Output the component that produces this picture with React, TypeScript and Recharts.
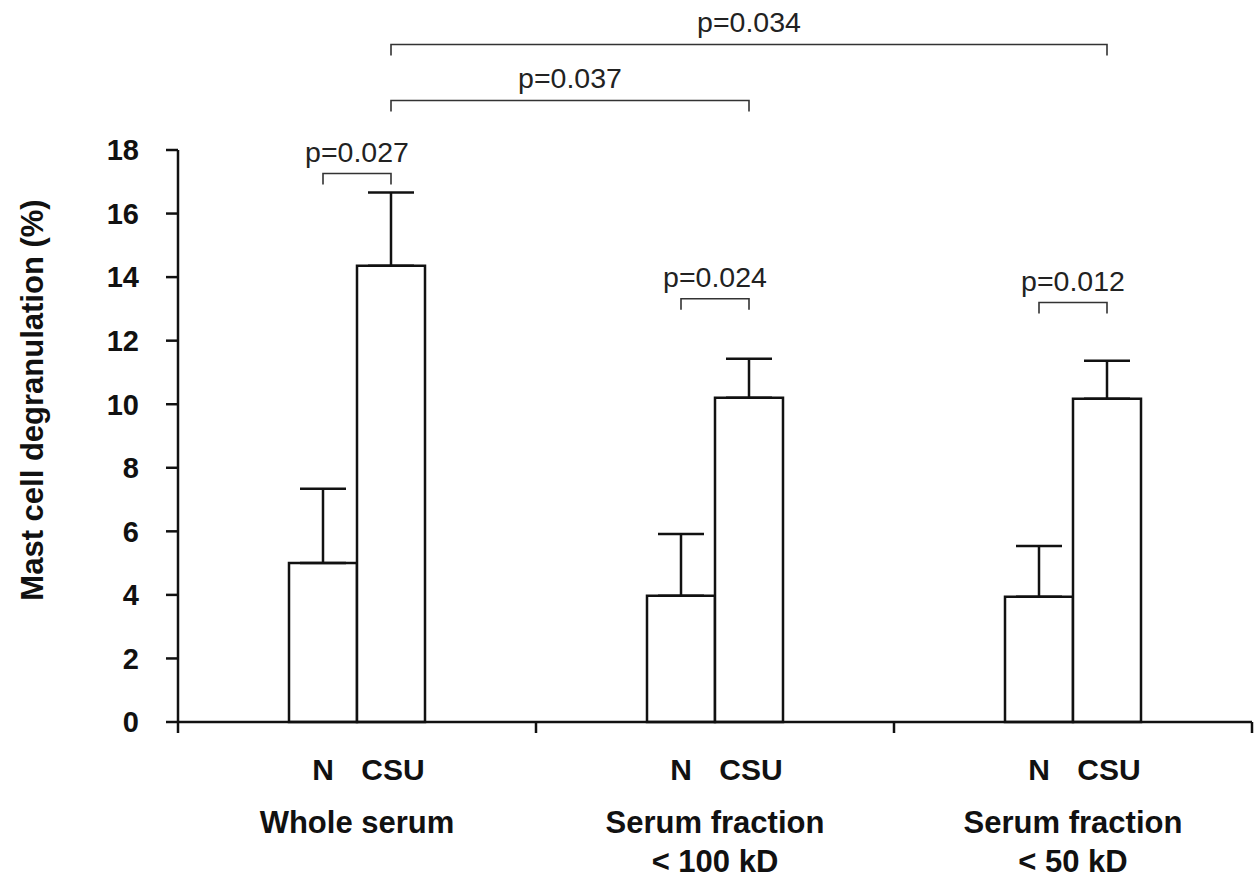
import React from 'react';
import { BarChart, Bar, XAxis, YAxis, ErrorBar, ReferenceLine, Label } from 'recharts';

// values
const groupLabels = [['Whole serum'], ['Serum fraction', '< 100 kD'], ['Serum fraction', '< 50 kD']];
const seriesNames = ['N', 'CSU'];
const nMean = [5.0, 3.97, 3.94];
const nErr = [2.34, 1.95, 1.6];
const csuMean = [14.36, 10.2, 10.17];
const csuErr = [2.3, 1.23, 1.2];
const yTicks = [0, 2, 4, 6, 8, 10, 12, 14, 16, 18];

// significance brackets: [group, series] -> [group, series]
const comparisons = [
  { from: [0, 0], to: [0, 1], y: 17.26, p: 'p=0.027' },
  { from: [1, 0], to: [1, 1], y: 13.32, p: 'p=0.024' },
  { from: [2, 0], to: [2, 1], y: 13.2, p: 'p=0.012' },
  { from: [0, 1], to: [1, 1], y: 19.56, p: 'p=0.037' },
  { from: [0, 1], to: [2, 1], y: 21.32, p: 'p=0.034' },
];

const data = groupLabels.map((g, i) => ({
  name: g.join(' '),
  pos: i + 0.5,
  N: nMean[i],
  nErr: [0, nErr[i]],
  CSU: csuMean[i],
  csuErr: [0, csuErr[i]],
}));

const W = 1260;
const H = 878;
const LEFT = 178;
const RIGHT = 8;
const TOP = 150;
const XAXIS_H = 156;
const BAR_SIZE = 68;
const BAND = (W - LEFT - RIGHT) / groupLabels.length;
const FONT = '"Liberation Sans", Arial, Helvetica, sans-serif';
const INK = '#111';

// centre of a bar in the numeric (group) axis units
const barX = ([g, s]: number[]) => g + 0.5 + (s === 0 ? -1 : 1) * (BAR_SIZE / 2) / BAND;

const GroupTick = (props: any) => {
  const { x, y, payload } = props;
  const v = payload.value;
  if (Number.isInteger(v)) {
    return <line x1={x} y1={y} x2={x} y2={y + 11} stroke={INK} strokeWidth={2.5} />;
  }
  const i = Math.floor(v);
  const style = { fontFamily: FONT, fontWeight: 700, fill: INK };
  return (
    <g>
      <text x={x - BAR_SIZE / 2} y={y + 58} textAnchor="middle" fontSize={30} style={style}>{seriesNames[0]}</text>
      <text x={x + BAR_SIZE / 2 + 2} y={y + 58} textAnchor="middle" fontSize={30} style={style}>{seriesNames[1]}</text>
      {groupLabels[i].map((line, k) => (
        <text key={k} x={x} y={y + 111 + k * 39} textAnchor="middle" fontSize={31} style={style}>{line}</text>
      ))}
    </g>
  );
};

const Bracket = (props: any) => {
  const { x1, y1, x2, y2 } = props;
  return (
    <path
      d={`M${x1},${y1 + 11} L${x1},${y1} L${x2},${y2} L${x2},${y2 + 11}`}
      fill="none"
      stroke="#333"
      strokeWidth={1.6}
    />
  );
};

const YTitle = (props: any) => {
  const { viewBox } = props;
  const cx = viewBox.x + 32;
  const cy = viewBox.y + viewBox.height / 2 - 36;
  return (
    <text
      x={cx}
      y={cy}
      transform={`rotate(-90 ${cx} ${cy})`}
      textAnchor="middle"
      dominantBaseline="central"
      fontSize={31}
      fontWeight={700}
      fontFamily={FONT}
      fill={INK}
    >
      Mast cell degranulation (%)
    </text>
  );
};

const App: React.FC = () => {
  return (
    <div style={{ position: 'absolute', left: 0, top: 0, background: '#fff' }}>
      <BarChart
        width={W}
        height={H}
        data={data}
        margin={{ top: TOP, right: RIGHT, left: 0, bottom: 0 }}
        barGap={0}
      >
        <XAxis xAxisId="cat" dataKey="name" orientation="top" height={0} hide />
        <XAxis
          xAxisId="num"
          dataKey="pos"
          type="number"
          domain={[0, 3]}
          ticks={[0, 0.5, 1, 1.5, 2, 2.5, 3]}
          allowDataOverflow
          height={XAXIS_H}
          tickLine={false}
          tickSize={0}
          tickMargin={0}
          axisLine={{ stroke: INK, strokeWidth: 2.5 }}
          tick={<GroupTick />}
          interval={0}
        />
        <YAxis
          domain={[0, 18]}
          ticks={yTicks}
          width={LEFT}
          tickSize={12}
          tickMargin={27}
          axisLine={{ stroke: INK, strokeWidth: 2.5 }}
          tickLine={{ stroke: INK, strokeWidth: 2.5 }}
          tick={{ fill: INK, fontSize: 29, fontWeight: 700, fontFamily: FONT }}
        >
          <Label content={<YTitle />} />
        </YAxis>
        <Bar xAxisId="cat" dataKey="N" barSize={BAR_SIZE} fill="#fff" stroke={INK} strokeWidth={2.5} isAnimationActive={false}>
          <ErrorBar dataKey="nErr" width={23} stroke={INK} strokeWidth={2.5} direction="y" isAnimationActive={false} />
        </Bar>
        <Bar xAxisId="cat" dataKey="CSU" barSize={BAR_SIZE} fill="#fff" stroke={INK} strokeWidth={2.5} isAnimationActive={false}>
          <ErrorBar dataKey="csuErr" width={23} stroke={INK} strokeWidth={2.5} direction="y" isAnimationActive={false} />
        </Bar>
        {comparisons.map((c, k) => (
          <ReferenceLine
            key={k}
            xAxisId="num"
            ifOverflow="visible"
            segment={[
              { x: barX(c.from), y: c.y },
              { x: barX(c.to), y: c.y },
            ]}
            shape={<Bracket />}
            label={{ value: c.p, position: 'top', offset: 12, fill: '#222', fontSize: 28.5, fontFamily: FONT }}
          />
        ))}
      </BarChart>
    </div>
  );
};

export default App;
